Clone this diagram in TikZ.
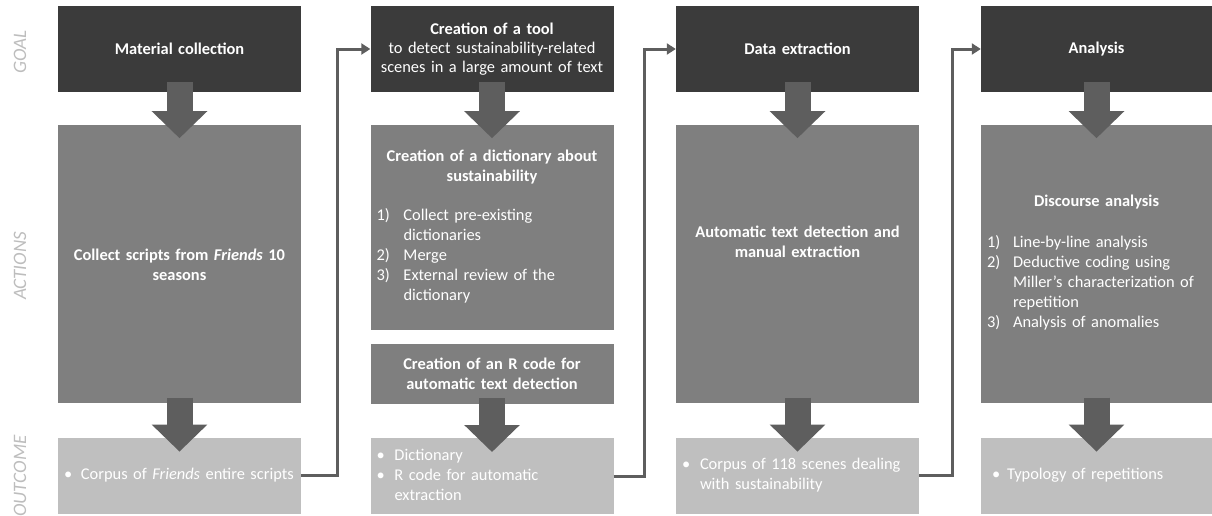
\documentclass[tikz,border=0pt]{standalone}
\usepackage{fontspec}
\setmainfont{Carlito}
\usetikzlibrary{positioning,arrows.meta}
\definecolor{goalgray}{HTML}{3B3B3B}
\definecolor{actgray}{HTML}{7F7F7F}
\definecolor{outgray}{HTML}{BFBFBF}
\definecolor{arrowgray}{HTML}{5E5E5E}
\definecolor{labelgray}{HTML}{BDBDBD}

\begin{document}
\begin{tikzpicture}[x=1pt, y=1pt,
boxbase/.style={rectangle, text=white, minimum width=243pt, text width=231pt, inner xsep=6pt, inner ysep=0pt, 
font=\fontsize{16.4}{20}\selectfont,
},
goalnode/.style={boxbase, fill=goalgray, minimum height=86pt, align=center, font=\fontsize{16.4}{19}\selectfont\bfseries,
},
actnode/.style={boxbase, fill=actgray, align=center,
},
outnode/.style={boxbase, fill=outgray, minimum height=76pt, align=left,
},
sidelabel/.style={rotate=90, text=labelgray, font=\fontsize{19}{21}\selectfont\itshape,
},
bigarrow/.style={draw=arrowgray, line width=26pt, -{Triangle[width=54pt,length=27pt]},
},
connector/.style={draw=arrowgray, line width=3pt, -{Triangle[width=11pt,length=9pt]},
}]
\useasboundingbox (0,0) rectangle (1212,-515);
%Labels
\node[sidelabel] (lgoal)    at (20,-52)  {GOAL};
\node[sidelabel] (lactions) at (20,-266) {ACTIONS};
\node[sidelabel] (loutcome) at (20,-476) {OUTCOME};

%Nodes
\node[goalnode]  (goal1)  at (179.5,-49) {Material collection};
\node[actnode, minimum height=278pt, font=\fontsize{16.4}{20}\selectfont\bfseries] (act1) [below=33pt of goal1] {Collect scripts from \textit{Friends} 10\\seasons};
\node[outnode]   (out1)   [below=34pt of act1] {\begin{tabular}[t]{@{}p{17pt}@{}p{214pt}@{}}\textbullet & Corpus of \textit{Friends} entire scripts\end{tabular}};

\node[goalnode]  (goal2)  at (492,-49) {Creation of a tool\\\mdseries to detect sustainability-related\\scenes in a large amount of text};
\node[actnode, minimum height=205pt] (dict) [below=33pt of goal2] {\textbf{Creation of a dictionary about}\\\textbf{sustainability}\\[19pt]\begin{tabular}[t]{@{}p{27pt}@{}p{204pt}@{}}1) & Collect pre-existing\\ & dictionaries\\2) & Merge\\3) & External review of the\\ & dictionary\end{tabular}};
\node[actnode, minimum height=60pt, font=\fontsize{16.4}{20}\selectfont\bfseries] (rcode) [below=13pt of dict] {Creation of an R code for\\automatic text detection};
\node[outnode]   (out2)   [below=34pt of rcode] {\begin{tabular}[t]{@{}p{18pt}@{}p{213pt}@{}}\textbullet & Dictionary\\\textbullet & R code for automatic\\ & extraction\end{tabular}};

\node[goalnode]  (goal3)  at (797.5,-49) {Data extraction};
\node[actnode, minimum height=278pt, font=\fontsize{16.4}{20}\selectfont\bfseries] (act3) [below=33pt of goal3] {Automatic text detection and\\manual extraction\\\strut\\\strut};
\node[outnode]   (out3)   [below=34pt of act3] {\begin{tabular}[t]{@{}p{18pt}@{}p{213pt}@{}}\textbullet & Corpus of 118 scenes dealing\\ & with sustainability\end{tabular}};

\node[goalnode, minimum width=231pt, text width=219pt] (goal4) at (1096.5,-49) {Analysis};
\node[actnode, minimum height=278pt, minimum width=231pt, text width=219pt] (act4) [below=33pt of goal4] {\textbf{Discourse analysis}\\[21pt]\begin{tabular}[t]{@{}p{26pt}@{}p{193pt}@{}}1) & Line-by-line analysis\\2) & Deductive coding using\\ & Miller's characterization of\\ & repetition\\3) & Analysis of anomalies\end{tabular}};
\node[outnode, minimum width=231pt, text width=219pt] (out4) [below=34pt of act4] {\begin{tabular}[t]{@{}p{5pt}@{}p{15pt}@{}p{199pt}@{}} & \textbullet & Typology of repetitions\end{tabular}};

%Lines
\draw[bigarrow] ([yshift=10pt]goal1.south) -- ([yshift=-13pt]act1.north);
\draw[bigarrow] ([yshift=6pt]act1.south) -- ([yshift=-14pt]out1.north);
\draw[bigarrow] ([yshift=10pt]goal2.south) -- ([yshift=-13pt]dict.north);
\draw[bigarrow] ([yshift=6pt]rcode.south) -- ([yshift=-14pt]out2.north);
\draw[bigarrow] ([yshift=10pt]goal3.south) -- ([yshift=-13pt]act3.north);
\draw[bigarrow] ([yshift=6pt]act3.south) -- ([yshift=-14pt]out3.north);
\draw[bigarrow] ([yshift=10pt]goal4.south) -- ([yshift=-13pt]act4.north);
\draw[bigarrow] ([yshift=6pt]act4.south) -- ([yshift=-14pt]out4.north);

\draw[connector] (out1.east) -- ++(36pt,0) |- (goal2.west);
\draw[connector] (out2.east) -- ++(31pt,0) |- (goal3.west);
\draw[connector] (out3.east) -- ++(33pt,0) |- (goal4.west);
\end{tikzpicture}
\end{document}
